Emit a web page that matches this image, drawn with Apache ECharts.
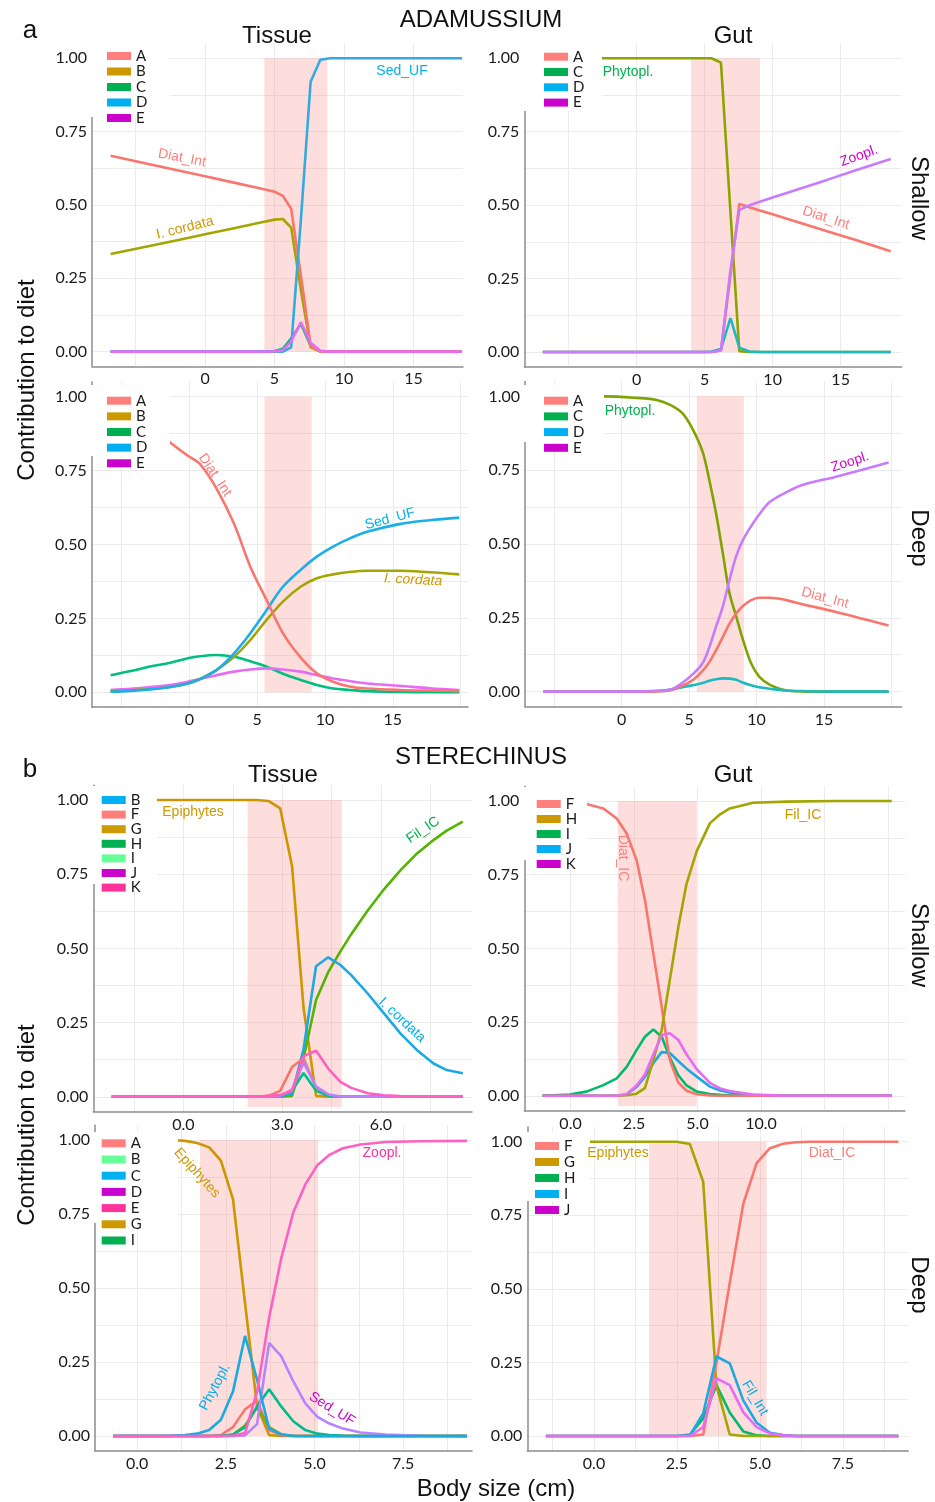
<!DOCTYPE html>
<html>
<head>
<meta charset="utf-8">
<script src="https://cdn.jsdelivr.net/npm/echarts@6/dist/echarts.min.js"></script>
<style>
  html, body { margin: 0; padding: 0; background: #fff; }
  #chart { width: 935px; height: 1502px; }
</style>
</head>
<body>
<div id="chart"></div>
<script>
// ---------- a) ADAMUSSIUM, Tissue, Shallow
const aTisShX = [-6.8, -4, -2, 0, 2, 4, 5, 5.6, 6.2, 6.9, 7.6, 8.3, 9, 10, 12, 14, 16, 18.5];
const aTisShA = [0.668, 0.639, 0.618, 0.598, 0.577, 0.556, 0.545, 0.531, 0.487, 0.26, 0.02, 0, 0, 0, 0, 0, 0, 0];
const aTisShB = [0.333, 0.36, 0.38, 0.40, 0.42, 0.44, 0.45, 0.452, 0.423, 0.21, 0.015, 0, 0, 0, 0, 0, 0, 0];
const aTisShC = [0, 0, 0, 0, 0, 0, 0.002, 0.01, 0.045, 0.095, 0.02, 0.002, 0, 0, 0, 0, 0, 0];
const aTisShD = [0, 0, 0, 0, 0, 0, 0, 0, 0.015, 0.45, 0.92, 0.995, 1, 1, 1, 1, 1, 1];
const aTisShE = [0, 0, 0, 0, 0, 0, 0.001, 0.005, 0.035, 0.1, 0.03, 0.003, 0, 0, 0, 0, 0, 0];

// ---------- a) Gut, Shallow
const aGutShX = [-6.9, -4, -2, 0, 2, 4, 5, 5.5, 6.2, 6.9, 7.55, 8.3, 9, 10, 12, 14, 16, 18.68];
const aGutShA = [0, 0, 0, 0, 0, 0, 0, 0, 0.005, 0.26, 0.504, 0.493, 0.483, 0.469, 0.44, 0.411, 0.383, 0.343];
const aGutShC = [1, 1, 1, 1, 1, 1, 1, 1, 0.985, 0.475, 0.003, 0, 0, 0, 0, 0, 0, 0];
const aGutShD = [0, 0, 0, 0, 0, 0, 0, 0.002, 0.01, 0.115, 0.015, 0.002, 0, 0, 0, 0, 0, 0];
const aGutShE = [0, 0, 0, 0, 0, 0, 0, 0, 0.005, 0.28, 0.483, 0.5, 0.511, 0.526, 0.556, 0.586, 0.617, 0.657];

// ---------- a) Tissue, Deep
const aTisDpX = [-5.8, -4.3, -2.9, -1.4, -0.1, 0.8, 2.0, 3.3, 4.5, 5.7, 6.9, 8.2, 9.4, 10.6, 11.8, 13.1, 15.5, 17.7, 19.9];
const aTisDpA = [0.97, 0.945, 0.905, 0.845, 0.8, 0.772, 0.69, 0.57, 0.425, 0.312, 0.2, 0.118, 0.064, 0.036, 0.02, 0.013, 0.008, 0.006, 0.005];
const aTisDpB = [0.004, 0.007, 0.011, 0.018, 0.03, 0.045, 0.075, 0.12, 0.177, 0.245, 0.307, 0.357, 0.386, 0.399, 0.407, 0.411, 0.411, 0.406, 0.399];
const aTisDpC = [0.058, 0.072, 0.087, 0.1, 0.115, 0.122, 0.126, 0.12, 0.105, 0.087, 0.063, 0.042, 0.025, 0.013, 0.008, 0.004, 0.001, 0, 0];
const aTisDpD = [0.002, 0.005, 0.01, 0.018, 0.03, 0.045, 0.075, 0.132, 0.2, 0.278, 0.357, 0.414, 0.459, 0.493, 0.52, 0.543, 0.569, 0.582, 0.591];
const aTisDpE = [0.008, 0.012, 0.018, 0.025, 0.036, 0.045, 0.058, 0.07, 0.077, 0.081, 0.077, 0.07, 0.058, 0.047, 0.038, 0.03, 0.022, 0.014, 0.008];

// ---------- a) Gut, Deep
const aGutDpX = [-5.8, -3, -1.3, 1.1, 2.6, 3.6, 4.5, 5.3, 6.0, 6.5, 7.0, 7.5, 8.0, 8.5, 9.0, 9.6, 10.2, 11.0, 12.2, 13.4, 15.9, 19.8];
const aGutDpA = [0, 0, 0, 0, 0.001, 0.005, 0.02, 0.04, 0.07, 0.1, 0.14, 0.185, 0.23, 0.265, 0.29, 0.31, 0.318, 0.318, 0.31, 0.296, 0.27, 0.224];
const aGutDpC = [1, 1, 1, 0.995, 0.988, 0.971, 0.943, 0.886, 0.813, 0.717, 0.604, 0.469, 0.333, 0.254, 0.175, 0.096, 0.051, 0.023, 0.004, 0.001, 0, 0];
const aGutDpD = [0, 0, 0, 0, 0.002, 0.006, 0.015, 0.022, 0.029, 0.037, 0.042, 0.045, 0.044, 0.04, 0.03, 0.022, 0.015, 0.01, 0.004, 0.002, 0, 0];
const aGutDpE = [0, 0, 0, 0.001, 0.003, 0.007, 0.03, 0.06, 0.096, 0.15, 0.22, 0.288, 0.378, 0.46, 0.514, 0.56, 0.6, 0.643, 0.675, 0.7, 0.728, 0.776];

// ---------- b) STERECHINUS, Tissue, Shallow
const bTisShX = [-2.18, -1, 0, 1, 2.23, 2.58, 2.94, 3.3, 3.65, 4.03, 4.4, 4.77, 5.1, 5.6, 6.1, 6.6, 7.1, 7.6, 8.0, 8.49];
const bTisShB = [0, 0, 0, 0, 0, 0, 0.002, 0.01, 0.16, 0.44, 0.47, 0.444, 0.41, 0.348, 0.28, 0.213, 0.157, 0.112, 0.09, 0.079];
const bTisShF = [0, 0, 0, 0, 0, 0.003, 0.02, 0.1, 0.13, 0.03, 0.005, 0, 0, 0, 0, 0, 0, 0, 0, 0];
const bTisShG = [1, 1, 1, 1, 1, 0.997, 0.972, 0.778, 0.3, 0.003, 0, 0, 0, 0, 0, 0, 0, 0, 0, 0];
const bTisShH = [0, 0, 0, 0, 0, 0, 0, 0.003, 0.13, 0.326, 0.42, 0.49, 0.548, 0.628, 0.7, 0.764, 0.82, 0.865, 0.897, 0.927];
const bTisShI = [0, 0, 0, 0, 0, 0, 0.003, 0.02, 0.08, 0.02, 0.003, 0, 0, 0, 0, 0, 0, 0, 0, 0];
const bTisShJ = [0, 0, 0, 0, 0, 0, 0.003, 0.025, 0.115, 0.035, 0.008, 0.001, 0, 0, 0, 0, 0, 0, 0, 0];
const bTisShK = [0, 0, 0, 0, 0, 0.003, 0.006, 0.02, 0.137, 0.155, 0.095, 0.05, 0.03, 0.012, 0.005, 0.002, 0.001, 0, 0, 0];

// ---------- b) Gut, Shallow
const bGutShX = [-1.1, -0.03, 0.63, 1.29, 1.82, 2.21, 2.6, 2.93, 3.26, 3.59, 3.91, 4.24, 4.57, 4.97, 5.49, 5.89, 6.27, 7.19, 8.5, 10.5, 12.65];
const bGutShF = [1, 1, 0.99, 0.975, 0.941, 0.89, 0.8, 0.664, 0.483, 0.302, 0.121, 0.045, 0.017, 0.005, 0.001, 0, 0, 0, 0, 0, 0];
const bGutShH = [0, 0, 0, 0, 0, 0.002, 0.007, 0.026, 0.121, 0.223, 0.393, 0.57, 0.72, 0.83, 0.925, 0.955, 0.975, 0.994, 0.998, 1, 1];
const bGutShI = [0, 0.004, 0.014, 0.036, 0.059, 0.098, 0.155, 0.2, 0.225, 0.2, 0.13, 0.07, 0.035, 0.014, 0.006, 0.003, 0.002, 0, 0, 0, 0];
const bGutShJ = [0, 0, 0, 0, 0, 0.005, 0.03, 0.065, 0.11, 0.148, 0.145, 0.118, 0.092, 0.065, 0.031, 0.018, 0.011, 0.002, 0, 0, 0];
const bGutShK = [0, 0, 0, 0, 0, 0.005, 0.035, 0.072, 0.14, 0.205, 0.212, 0.19, 0.14, 0.09, 0.044, 0.025, 0.016, 0.004, 0, 0, 0];

// ---------- b) Tissue, Deep
const bTisDpX = [-0.68, 0.3, 1.0, 1.35, 1.69, 2.03, 2.36, 2.7, 3.04, 3.38, 3.72, 4.06, 4.4, 4.74, 5.08, 5.42, 5.8, 6.3, 7.0, 8.0, 9.3];
const bTisDpA = [0, 0, 0, 0, 0, 0, 0.003, 0.03, 0.09, 0.12, 0.02, 0.002, 0, 0, 0, 0, 0, 0, 0, 0, 0];
const bTisDpB = [0, 0, 0, 0, 0, 0, 0, 0.005, 0.035, 0.097, 0.03, 0.006, 0, 0, 0, 0, 0, 0, 0, 0, 0];
const bTisDpC = [0, 0, 0.001, 0.003, 0.008, 0.02, 0.055, 0.15, 0.338, 0.19, 0.025, 0.005, 0.001, 0, 0, 0, 0, 0, 0, 0, 0];
const bTisDpD = [0, 0, 0, 0, 0, 0, 0, 0, 0.002, 0.04, 0.315, 0.27, 0.185, 0.11, 0.065, 0.042, 0.025, 0.012, 0.005, 0.001, 0];
const bTisDpE = [0, 0, 0, 0, 0, 0, 0, 0.001, 0.01, 0.15, 0.4, 0.6, 0.755, 0.85, 0.915, 0.95, 0.972, 0.985, 0.993, 0.996, 0.997];
const bTisDpG = [1, 1, 1, 0.997, 0.99, 0.975, 0.93, 0.8, 0.45, 0.1, 0.003, 0, 0, 0, 0, 0, 0, 0, 0, 0, 0];
const bTisDpI = [0, 0, 0, 0, 0, 0, 0, 0.005, 0.03, 0.1, 0.158, 0.1, 0.05, 0.02, 0.008, 0.003, 0.001, 0, 0, 0, 0];

// ---------- b) Gut, Deep
const bGutDpX = [-1.45, 0, 1.0, 2.09, 2.49, 2.89, 3.29, 3.69, 4.09, 4.5, 4.9, 5.3, 5.7, 6.1, 6.5, 7.5, 9.17];
const bGutDpF = [0, 0, 0, 0, 0, 0, 0.005, 0.25, 0.52, 0.79, 0.927, 0.978, 0.993, 0.998, 1, 1, 1];
const bGutDpG = [1, 1, 1, 1, 1, 0.992, 0.864, 0.17, 0.005, 0, 0, 0, 0, 0, 0, 0, 0];
const bGutDpH = [0, 0, 0, 0, 0, 0.005, 0.06, 0.173, 0.08, 0.015, 0.002, 0, 0, 0, 0, 0, 0];
const bGutDpI = [0, 0, 0, 0, 0, 0.002, 0.077, 0.27, 0.247, 0.12, 0.045, 0.011, 0.003, 0, 0, 0, 0];
const bGutDpJ = [0, 0, 0, 0, 0, 0, 0.03, 0.196, 0.173, 0.08, 0.03, 0.008, 0.002, 0, 0, 0, 0];

// tick labels
const yTicks = [0, 0.25, 0.5, 0.75, 1];
const yGrid = [0, 0.125, 0.25, 0.375, 0.5, 0.625, 0.75, 0.875, 1];
const aXTicks = [0, 5, 10, 15];
const aXLabels = ['0', '5', '10', '15'];
const bTisShXTicks = [0, 3, 6];
const bTisShXLabels = ['0.0', '3.0', '6.0'];
const bGutShXTicks = [0, 2.5, 5, 7.5];
const bGutShXLabels = ['0.0', '2.5', '5.0', '10.0'];
const bDpXTicks = [0, 2.5, 5, 7.5];
const bDpXLabels = ['0.0', '2.5', '5.0', '7.5'];

// legend keys and their swatch colours, per panel
const leg1 = ['A', 'B', 'C', 'D', 'E'];
const leg1Colors = ['#FF7F7F', '#CC9900', '#00B050', '#00B0F0', '#CC00CC'];
const leg2 = ['A', 'C', 'D', 'E'];
const leg2Colors = ['#FF7F7F', '#00B050', '#00B0F0', '#CC00CC'];
const leg5 = ['B', 'F', 'G', 'H', 'I', 'J', 'K'];
const leg5Colors = ['#00B0F0', '#FF7F7F', '#CC9900', '#00B050', '#66FF99', '#CC00CC', '#FF3399'];
const leg6 = ['F', 'H', 'I', 'J', 'K'];
const leg6Colors = ['#FF7F7F', '#CC9900', '#00B050', '#00B0F0', '#CC00CC'];
const leg7 = ['A', 'B', 'C', 'D', 'E', 'G', 'I'];
const leg7Colors = ['#FF7F7F', '#66FF99', '#00B0F0', '#CC00CC', '#FF3399', '#CC9900', '#00B050'];
const leg8 = ['F', 'G', 'H', 'I', 'J'];
const leg8Colors = ['#FF7F7F', '#CC9900', '#00B050', '#00B0F0', '#CC00CC'];

const panels = [
  { // a Tissue Shallow
    box: [92, 43.6, 371, 322.7], xr: [-8.14, 18.57], xGrid: [-5, 0, 5, 10, 15], xTicks: aXTicks, xLabels: aXLabels,
    band: [4.27, 8.8, 0, 1], x: aTisShX, smooth: false,
    lines: [['C', aTisShC, '#00BF7D'], ['B', aTisShB, '#A3A500'], ['A', aTisShA, '#F8766D'], ['D', aTisShD, '#35A9E0'], ['E', aTisShE, '#E76BF3']],
    legend: leg1, legColors: leg1Colors, legPos: [107, 48.5, 15.5], cover: [89, 40, 81, 77],
    labels: [['Diat_Int', 182, 158, -11, '#FF7F7F'], ['I. cordata', 185, 228, 14, '#CC9900'], ['Sed_UF', 402, 71, 0, '#00B0F0']]
  },
  { // a Gut Shallow
    box: [524.3, 43.6, 377.4, 323.1], xr: [-8.26, 19.49], xGrid: [-5, 0, 5, 10, 15], xTicks: aXTicks, xLabels: aXLabels,
    band: [4.0, 9.07, 0, 1], x: aGutShX, smooth: false,
    lines: [['C', aGutShC, '#8DA300'], ['A', aGutShA, '#F8766D'], ['D', aGutShD, '#1DB9BE'], ['E', aGutShE, '#C77CFF']],
    legend: leg2, legColors: leg2Colors, legPos: [544, 49.2, 15.3], cover: [522, 40, 80, 71],
    labels: [['Phytopl.', 628, 72, 0, '#00B050'], ['Zoopl.', 859, 156, 20, '#CC00CC'], ['Diat_Int', 826, 218, -18, '#FF7F7F']]
  },
  { // a Tissue Deep
    box: [91.7, 381.9, 376.3, 325.2], xr: [-7.19, 20.54], xGrid: [-5, 0, 5, 10, 15, 20], xTicks: aXTicks, xLabels: aXLabels,
    band: [5.54, 9.02, 0, 1], x: aTisDpX, smooth: 0.35,
    lines: [['C', aTisDpC, '#00BF7D'], ['E', aTisDpE, '#E76BF3'], ['B', aTisDpB, '#A3A500'], ['D', aTisDpD, '#1DAEEA'], ['A', aTisDpA, '#F8766D']],
    legend: leg1, legColors: leg1Colors, legPos: [107, 393.2, 15.65], cover: [89, 385, 81, 71],
    labels: [['Diat_Int', 215, 475, -56, '#FF7F7F'], ['Sed_UF', 390, 519, 15, '#00B0F0'], ['I. cordata', 413, 580, -3, '#CC9900', true]]
  },
  { // a Gut Deep
    box: [525, 381.6, 376.7, 324.8], xr: [-7.17, 20.77], xGrid: [-5, 0, 5, 10, 15, 20], xTicks: aXTicks, xLabels: aXLabels,
    band: [5.58, 9.06, 0, 1], x: aGutDpX, smooth: 0.35,
    lines: [['C', aGutDpC, '#7FA300'], ['D', aGutDpD, '#1DB9BE'], ['A', aGutDpA, '#F8766D'], ['E', aGutDpE, '#C77CFF']],
    legend: leg2, legColors: leg2Colors, legPos: [544, 393.2, 15.7], cover: [522, 385, 82, 57],
    labels: [['Phytopl.', 630, 411, 0, '#00B050'], ['Zoopl.', 850, 462, 18, '#CC00CC'], ['Diat_Int', 825, 598, -15, '#FF7F7F']]
  },
  { // b Tissue Shallow
    box: [93.3, 785.2, 378.7, 326.4], xr: [-2.74, 8.77], xGrid: [-1.5, 0, 1.5, 3, 4.5, 6, 7.5], xTicks: bTisShXTicks, xLabels: bTisShXLabels,
    band: [1.95, 4.81, -0.035, 1], x: bTisShX, smooth: false,
    lines: [['G', bTisShG, '#CD9600'], ['H', bTisShH, '#53B400'], ['B', bTisShB, '#1CA9E1'], ['F', bTisShF, '#F8766D'], ['I', bTisShI, '#00C08B'], ['J', bTisShJ, '#B983FF'], ['K', bTisShK, '#FF61C3']],
    legend: leg5, legColors: leg5Colors, legPos: [101.7, 792.5, 14.6], cover: [91, 786, 66, 98],
    labels: [['Epiphytes', 193, 812, 0, '#CC9900'], ['Fil_IC', 423, 830, 34, '#00B050'], ['I. cordata', 402, 1020, -43, '#00B0F0']]
  },
  { // b Gut Shallow
    box: [524.3, 786.3, 380.7, 324.2], xr: [-1.82, 13.17], xGrid: [0, 2.5, 5, 7.5, 10, 12.5], xTicks: bGutShXTicks, xLabels: bGutShXLabels,
    band: [1.86, 4.97, -0.035, 1], x: bGutShX, smooth: false,
    lines: [['I', bGutShI, '#00BA6A'], ['J', bGutShJ, '#1CA9E1'], ['F', bGutShF, '#F8766D'], ['H', bGutShH, '#A3A500'], ['K', bGutShK, '#E76BF3']],
    legend: leg6, legColors: leg6Colors, legPos: [536.7, 796.5, 15], cover: [522, 787, 65, 73],
    labels: [['Diat_IC', 623, 858, -90, '#FF7F7F'], ['Fil_IC', 803, 815, 0, '#CC9900']]
  },
  { // b Tissue Deep
    box: [95, 1125.2, 377, 325.6], xr: [-1.19, 9.44], xGrid: [0, 1.25, 2.5, 3.75, 5, 6.25, 7.5, 8.75], xTicks: bDpXTicks, xLabels: bDpXLabels,
    band: [1.77, 5.1, 0, 1], x: bTisDpX, smooth: false,
    lines: [['G', bTisDpG, '#CD9600'], ['A', bTisDpA, '#F8766D'], ['B', bTisDpB, '#7CAE00'], ['I', bTisDpI, '#00BA8A'], ['D', bTisDpD, '#B983FF'], ['C', bTisDpC, '#1CA9E1'], ['E', bTisDpE, '#FF61C3']],
    legend: leg7, legColors: leg7Colors, legPos: [101.7, 1135.8, 16.2], cover: [93, 1132, 85, 91],
    labels: [['Zoopl.', 382, 1153, 0, '#FF3399'], ['Epiphytes', 197, 1173, -48, '#CC9900'], ['Phytopl.', 215, 1387, 62, '#00B0F0'], ['Sed_UF', 332, 1409, -32, '#CC00CC']]
  },
  { // b Gut Deep
    box: [527.3, 1127, 381, 323.7], xr: [-2.01, 9.47], xGrid: [-1.25, 0, 1.25, 2.5, 3.75, 5, 6.25, 7.5, 8.75], xTicks: bDpXTicks, xLabels: bDpXLabels,
    band: [1.66, 5.2, 0, 1], x: bGutDpX, smooth: false,
    lines: [['H', bGutDpH, '#00BA6A'], ['G', bGutDpG, '#A3A500'], ['F', bGutDpF, '#F8766D'], ['I', bGutDpI, '#1CA9E1'], ['J', bGutDpJ, '#E76BF3']],
    legend: leg8, legColors: leg8Colors, legPos: [535, 1138.5, 16], cover: [525, 1132, 65, 69],
    labels: [['Epiphytes', 618, 1153, 0, '#CC9900'], ['Diat_IC', 832, 1153, 0, '#FF7F7F'], ['Fil_Int', 755, 1398, -59, '#00B0F0']]
  }
];

const tickFont = { color: '#1a1a1a', fontSize: 16, fontFamily: 'Lato' };
const axisLineStyle = { color: '#8c8c8c', width: 1.5 };
const gridLine = { color: '#ebebeb', width: 1 };
const LEG_ROW = 15; // height of one legend row (text box)

const grids = [], xAxes = [], yAxes = [], series = [], legends = [], graphics = [];

panels.forEach((p, i) => {
  grids.push({ left: p.box[0], top: p.box[1], width: p.box[2], height: p.box[3], containLabel: false });
  xAxes.push({
    type: 'value', gridIndex: i, min: p.xr[0], max: p.xr[1],
    axisLine: { show: true, onZero: false, lineStyle: axisLineStyle },
    axisTick: { show: false, customValues: p.xGrid },
    axisLabel: Object.assign({ customValues: p.xTicks, margin: 5,
      formatter: v => { const k = p.xTicks.findIndex(t => Math.abs(t - v) < 1e-6); return k < 0 ? '' : p.xLabels[k]; } }, tickFont),
    splitLine: { show: true, lineStyle: gridLine }
  });
  yAxes.push({
    type: 'value', gridIndex: i, min: -0.05, max: 1.05,
    axisLine: { show: true, onZero: false, lineStyle: axisLineStyle },
    axisTick: { show: false, customValues: yGrid },
    axisLabel: Object.assign({ customValues: yTicks, margin: 5, padding: [5, 0, 0, 0], formatter: v => v.toFixed(2) }, tickFont),
    splitLine: { show: true, lineStyle: gridLine }
  });
  // shaded size window
  series.push({
    type: 'line', xAxisIndex: i, yAxisIndex: i, z: 1, silent: true, showSymbol: false, symbol: 'none',
    data: [[p.band[0], 0], [p.band[1], 0]], lineStyle: { opacity: 0, width: 0 },
    markArea: { silent: true, itemStyle: { color: 'rgba(248,118,109,0.24)' },
      data: [[{ coord: [p.band[0], p.band[2]] }, { coord: [p.band[1], p.band[3]] }]] }
  });
  p.lines.forEach(([name, ys, color]) => {
    series.push({
      type: 'line', name: name, xAxisIndex: i, yAxisIndex: i, z: 3, silent: true,
      showSymbol: false, symbol: 'none', smooth: p.smooth,
      data: p.x.map((v, k) => [v, ys[k]]),
      lineStyle: { width: 2.6, color: color }, itemStyle: { color: color }
    });
  });
  legends.push({
    orient: 'vertical', left: p.legPos[0], top: p.legPos[1], padding: 0, itemGap: p.legPos[2] - LEG_ROW,
    itemWidth: 24, itemHeight: 8, icon: 'rect', selectedMode: false, z: 70,
    textStyle: { fontFamily: 'Lato', fontSize: 15, color: '#1a1a1a', lineHeight: 14 },
    data: p.legend.map((n, k) => ({ name: n, itemStyle: { color: p.legColors[k], borderWidth: 0 } }))
  });
  // white legend background over axis and curves
  graphics.push({ type: 'rect', z: 50, silent: true,
    shape: { x: p.cover[0], y: p.cover[1], width: p.cover[2], height: p.cover[3] }, style: { fill: '#fff' } });
  p.labels.forEach(([t, x, y, rot, color, italic]) => {
    graphics.push({ type: 'text', z: 60, silent: true, x: x, y: y, rotation: rot * Math.PI / 180,
      style: { text: t, fill: color, fontSize: 14, fontFamily: 'Liberation Sans', fontStyle: italic ? 'italic' : 'normal',
        textAlign: 'center', textVerticalAlign: 'middle', align: 'center', verticalAlign: 'middle' } });
  });
});

function txt(t, x, y, size, rot) {
  return { type: 'text', z: 60, silent: true, x: x, y: y, rotation: (rot || 0) * Math.PI / 180,
    style: { text: t, fill: '#111', fontSize: size, fontFamily: 'Liberation Sans',
      textAlign: 'center', textVerticalAlign: 'middle', align: 'center', verticalAlign: 'middle' } };
}
graphics.push(
  txt('a', 30, 31, 26), txt('ADAMUSSIUM', 481, 20, 24),
  txt('Tissue', 277, 36, 24), txt('Gut', 733, 36, 24),
  txt('b', 30, 770, 26), txt('STERECHINUS', 481, 757, 24),
  txt('Tissue', 283, 775, 24), txt('Gut', 733, 775, 24),
  txt('Contribution to diet', 27, 380, 24, 90), txt('Contribution to diet', 27, 1125, 24, 90),
  txt('Shallow', 919, 198, 24, -90), txt('Deep', 919, 538, 24, -90),
  txt('Shallow', 919, 945, 24, -90), txt('Deep', 919, 1285, 24, -90),
  txt('Body size (cm)', 496, 1489, 24)
);

const chart = echarts.init(document.getElementById('chart'), null, { renderer: 'canvas' });
chart.setOption({
  backgroundColor: '#fff',
  animation: false,
  grid: grids,
  xAxis: xAxes,
  yAxis: yAxes,
  legend: legends,
  series: series,
  graphic: { elements: graphics }
});
</script>
</body>
</html>
